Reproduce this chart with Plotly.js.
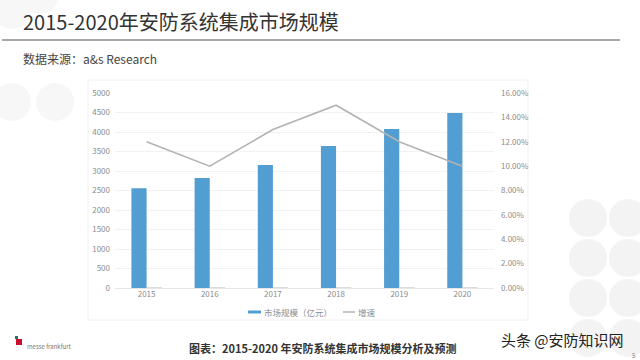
<!DOCTYPE html>
<html>
<head>
<meta charset="utf-8">
<script src="https://cdn.plot.ly/plotly-3.0.1.min.js"></script>
<style>html,body{margin:0;padding:0;background:#fff;}#chart{width:640px;height:360px;}</style>
</head>
<body>
<div id="chart"></div>
<script>
const years = ['2015', '2016', '2017', '2018', '2019', '2020'];
const marketSize = [2560, 2820, 3155, 3640, 4075, 4485];
const growth = [0.12, 0.10, 0.13, 0.15, 0.12, 0.10];
const leftTicks = [0, 500, 1000, 1500, 2000, 2500, 3000, 3500, 4000, 4500, 5000];
const rightTicks = [0, 0.02, 0.04, 0.06, 0.08, 0.10, 0.12, 0.14, 0.16];
const seriesNames = ['市场规模（亿元）', '增速'];

const font = '"Noto Sans CJK SC", "Noto Sans", sans-serif';
const barColor = '#529dd1';
const lineColor = '#b3b3b3';

const traces = [
  {type: 'bar', x: years, y: marketSize, name: seriesNames[0],
   marker: {color: barColor}, yaxis: 'y', hoverinfo: 'none', showlegend: false},
  {type: 'bar', x: years, y: growth, name: seriesNames[1] + 'bar', showlegend: false,
   marker: {color: '#d0d0d0', line: {color: '#d0d0d0', width: 1}}, yaxis: 'y', hoverinfo: 'none'},
  {type: 'scatter', mode: 'lines', x: years, y: growth, name: seriesNames[1], yaxis: 'y2',
   line: {color: lineColor, width: 1.6}, hoverinfo: 'none', showlegend: false}
];

const px = x => (x - 115) / 379;
const py = y => (288 - y) / 195;

const circles = [];
const circ = (cx, cy, r, c) => circles.push({type: 'circle', xref: 'paper', yref: 'paper', layer: 'below',
  x0: px(cx - r), x1: px(cx + r), y0: py(cy + r), y1: py(cy - r),
  fillcolor: c, line: {width: 0}});
[[588,218],[628,218],[588,258],[628,258],[588,298],[628,298],[588,338],[628,338]].forEach(p => circ(p[0], p[1], 19, '#f3f3f3'));
[[12,102],[55,102],[12,10],[40,-5]].forEach(p => circ(p[0], p[1], 19, '#f7f7f7'));

const shapes = circles.concat([
  {type: 'rect', xref: 'paper', yref: 'paper', layer: 'below', x0: px(88), x1: px(528), y0: py(320), y1: py(80),
   fillcolor: '#ffffff', line: {color: '#f0f0f0', width: 1}},
  {type: 'line', xref: 'paper', yref: 'paper', x0: px(2), x1: px(620), y0: py(40), y1: py(40),
   line: {color: '#8a8a8a', width: 1.5}},
  // legend symbols
  {type: 'rect', xref: 'paper', yref: 'paper', x0: px(248), x1: px(261), y0: py(313.5), y1: py(310.5),
   fillcolor: barColor, line: {width: 0}},
  {type: 'line', xref: 'paper', yref: 'paper', x0: px(343), x1: px(355), y0: py(312), y1: py(312),
   line: {color: lineColor, width: 1.5}},
  // logo
  {type: 'rect', xref: 'paper', yref: 'paper', x0: px(16), x1: px(22), y0: py(345), y1: py(339),
   fillcolor: '#c8102e', line: {width: 0}},
  {type: 'rect', xref: 'paper', yref: 'paper', x0: px(15), x1: px(18), y0: py(339), y1: py(336),
   fillcolor: '#2a6f6f', line: {width: 0}}
]);

const layout = {
  width: 640, height: 360,
  margin: {l: 115, r: 146, t: 93, b: 72},
  paper_bgcolor: '#ffffff', plot_bgcolor: 'rgba(0,0,0,0)',
  font: {family: font, color: '#8c8c8c', size: 8},
  barmode: 'group', bargap: 0.52, bargroupgap: 0,
  xaxis: {type: 'category', showgrid: false, zeroline: false, showline: false,
          ticks: '', tickfont: {size: 8, color: '#8c8c8c'}, fixedrange: true},
  yaxis: {range: [0, 5000], tickvals: leftTicks, showgrid: true, gridcolor: '#f2f2f2', gridwidth: 1,
          zeroline: true, zerolinecolor: '#e6e6e6', ticks: '', tickfont: {size: 8, color: '#8c8c8c'},
          ticklabelstandoff: 4},
  yaxis2: {range: [0, 0.16], tickvals: rightTicks, tickformat: '.2%', overlaying: 'y', side: 'right',
           showgrid: false, zeroline: false, ticks: '', tickfont: {size: 8, color: '#8c8c8c'},
           ticklabelstandoff: 6},
  showlegend: false,
  shapes: shapes,
  annotations: [
    {text: seriesNames[0], xref: 'paper', yref: 'paper', x: px(262), y: py(312),
     xanchor: 'left', yanchor: 'middle', showarrow: false, font: {family: font, size: 8.5, color: '#8c8c8c'}},
    {text: seriesNames[1], xref: 'paper', yref: 'paper', x: px(356), y: py(312),
     xanchor: 'left', yanchor: 'middle', showarrow: false, font: {family: font, size: 8.5, color: '#8c8c8c'}},
    {text: '2015-2020年安防系统集成市场规模', xref: 'paper', yref: 'paper', x: px(21), y: py(22),
     xanchor: 'left', yanchor: 'middle', showarrow: false, font: {family: font, size: 20, color: '#333333'}},
    {text: '数据来源：a&amp;s Research', xref: 'paper', yref: 'paper', x: px(21), y: py(59),
     xanchor: 'left', yanchor: 'middle', showarrow: false, font: {family: font, size: 12, color: '#444444'}},
    {text: '<b>图表：2015-2020 年安防系统集成市场规模分析及预测</b>', xref: 'paper', yref: 'paper', x: px(323), y: py(348),
     xanchor: 'center', yanchor: 'middle', showarrow: false, font: {family: font, size: 11, color: '#333333'}},
    {text: '头条 @安防知识网', xref: 'paper', yref: 'paper', x: px(626), y: py(339),
     xanchor: 'right', yanchor: 'middle', showarrow: false, font: {family: font, size: 15, color: '#222222'}},
    {text: 'messe frankfurt', xref: 'paper', yref: 'paper', x: px(25), y: py(346),
     xanchor: 'left', yanchor: 'middle', showarrow: false, font: {family: font, size: 6, color: '#777777'}},
    {text: '5', xref: 'paper', yref: 'paper', x: px(633), y: py(355),
     xanchor: 'center', yanchor: 'middle', showarrow: false, font: {family: font, size: 6, color: '#777777'}}
  ]
};

Plotly.newPlot('chart', traces, layout, {displayModeBar: false, staticPlot: true});
</script>
</body>
</html>
